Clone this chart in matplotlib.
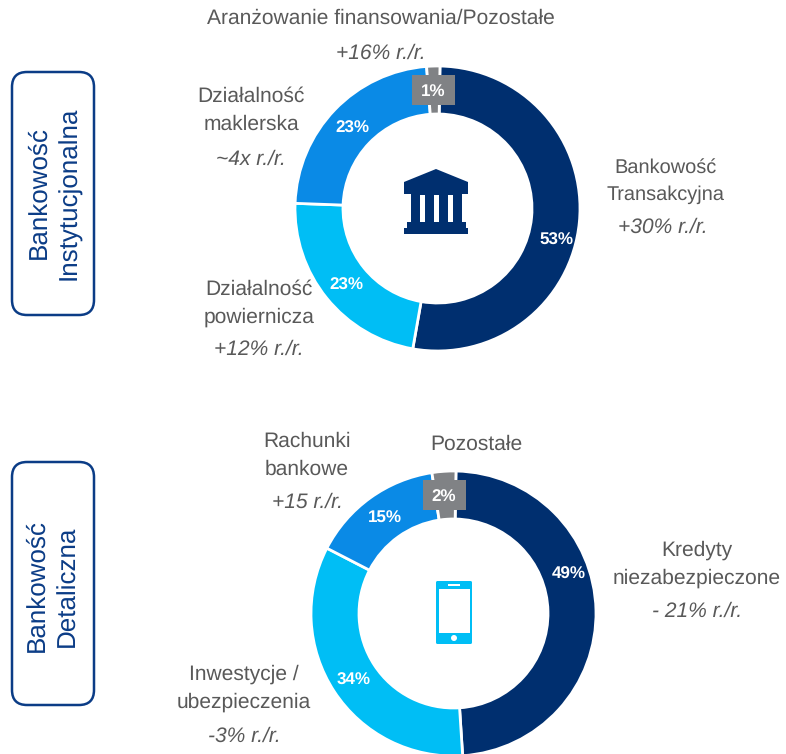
#!/usr/bin/env python3

import matplotlib
matplotlib.use('Agg')
import matplotlib.pyplot as plt
from matplotlib.patches import Circle, FancyBboxPatch, Polygon, Rectangle

W, H = 786, 754

inst_shares = [52.5, 22.8, 23.2, 1.5]
inst_labels = ['53%', '23%', '23%', '1%']
retail_shares = [48.7, 33.6, 15.0, 2.7]
retail_labels = ['49%', '34%', '15%', '2%']

inst_colors = ['#002F6F', '#00BEF5', '#0A8AE6', '#808285']
retail_colors = ['#002F6F', '#00BEF5', '#0A8AE6', '#808285']

DARK = '#002F6F'
CYAN = '#00BEF5'
GRAY = '#808285'
TEXT = '#595959'
EDGE = '#0B3C86'

plt.rcParams['font.family'] = ['Liberation Sans', 'DejaVu Sans']
plt.rcParams['text.hinting'] = 'no_hinting'
plt.rcParams['text.hinting_factor'] = 1

fig = plt.figure(figsize=(W / 100, H / 100), dpi=100)
ax = fig.add_axes([0, 0, 1, 1])


def y(py):
    # picture rows run downwards
    return H - py


def donut(cx, cy, shares, colors, start):
    ax.pie(shares, colors=colors, center=(cx, y(cy)), radius=142.5,
           startangle=90 - start, counterclock=False, frame=True,
           wedgeprops=dict(width=48, edgecolor='white', linewidth=2))


donut(437.5, 208.5, inst_shares, inst_colors, 1)
donut(453.5, 613.5, retail_shares, retail_colors, 1)

ax.set_xlim(0, W)
ax.set_ylim(0, H)
ax.set_aspect('equal')
ax.axis('off')


def pct(px, py, s):
    ax.text(px, y(py), s, color='white', fontsize=12.5, fontweight='bold',
            ha='center', va='center', zorder=6)


def note(px, py, s, italic=False, size=15):
    ax.text(px, y(py), s, color=TEXT, fontsize=size, ha='center', va='center',
            style='italic' if italic else 'normal', linespacing=1.55)


# grey tags over the small slices
ax.add_patch(Rectangle((412, y(105)), 43, 30, color=GRAY, lw=0, zorder=5))
ax.add_patch(Rectangle((423, y(510)), 43, 30, color=GRAY, lw=0, zorder=5))

pct(556, 240, inst_labels[0])
pct(346, 285, inst_labels[1])
pct(352, 128, inst_labels[2])
pct(433, 91, inst_labels[3])
pct(569, 574, retail_labels[0])
pct(354, 680, retail_labels[1])
pct(385, 518, retail_labels[2])
pct(444, 497, retail_labels[3])

note(381, 18, 'Aranżowanie finansowania/Pozostałe', size=15.3)
note(381, 53, '+16% r./r.', True)
note(251, 110, 'Działalność\nmaklerska')
note(251, 159, '~4x r./r.', True)
note(666, 181, 'Bankowość\nTransakcyjna', size=14.7)
note(663, 227, '+30% r./r.', True)
note(259, 303, 'Działalność\npowiernicza')
note(259, 349, '+12% r./r.', True)
note(307, 455, 'Rachunki\nbankowe')
note(307, 502, '+15 r./r.', True)
note(476, 444, 'Pozostałe')
note(697, 564, 'Kredyty\nniezabezpieczone', size=15.3)
note(697, 611, '- 21% r./r.', True)
note(244, 688, 'Inwestycje /\nubezpieczenia')
note(244, 736, '-3% r./r.', True)

# side boxes
for top, bottom, s, tx, ty in [(72, 315, 'Bankowość\nInstytucjonalna', 54, 193),
                               (462, 705, 'Bankowość\nDetaliczna', 52, 586)]:
    ax.add_patch(FancyBboxPatch((27, y(bottom) + 15), 52, bottom - top - 30,
                                boxstyle='round,pad=15,rounding_size=15',
                                fc='white', ec=EDGE, lw=1.8))
    ax.text(tx, y(ty), s, color=EDGE, fontsize=18.8, rotation=90,
            ha='center', va='center', linespacing=1.35, multialignment='center')

# bank icon
ax.add_patch(Polygon([(404, y(182)), (436, y(169)), (468, y(182)),
                      (468, y(194)), (404, y(194))], color=DARK, lw=0))
ax.add_patch(Rectangle((411, y(223)), 51, 30, color=DARK, lw=0))
for sx in (420, 433.5, 448):
    ax.add_patch(Rectangle((sx, y(223)), 5, 28, color='white', lw=0))
ax.add_patch(Rectangle((407, y(228)), 59, 6, color=DARK, lw=0))
ax.add_patch(Rectangle((404, y(234)), 64, 6, color=DARK, lw=0))

# phone icon
ax.add_patch(FancyBboxPatch((437, y(643)), 34, 61,
                            boxstyle='round,pad=1,rounding_size=1.5',
                            color=CYAN, lw=0))
ax.add_patch(Rectangle((439, y(633)), 31, 44, color='white', lw=0))
ax.add_patch(Rectangle((448, y(585.5)), 12, 1.5, color='white', lw=0))
ax.add_patch(Circle((454, y(638)), 3, color='white', lw=0))

fig.savefig('out.png', dpi=100)
